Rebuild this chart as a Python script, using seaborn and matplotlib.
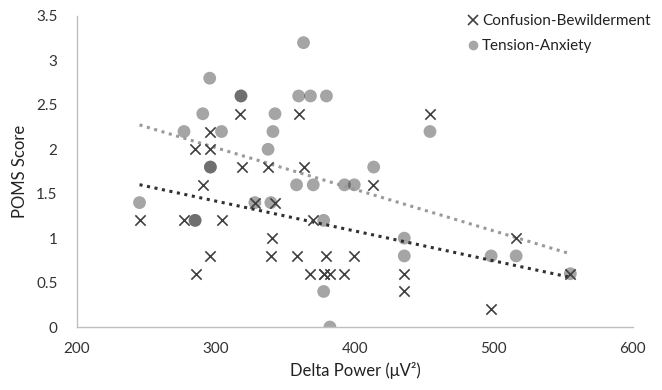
import numpy as np
import pandas as pd
import matplotlib
matplotlib.use('Agg')
import matplotlib.pyplot as plt
import seaborn as sns
from matplotlib.lines import Line2D
from matplotlib.ticker import FuncFormatter

# values
conf_x = [245, 277, 285, 285.5, 290.5, 295.5, 296, 296, 304, 317, 318.5, 328, 337.5, 339.5,
          340.5, 342.5, 358, 359.5, 363, 368, 370, 377.5, 377.5, 379, 382, 392, 399.5, 413,
          435.5, 435.5, 454, 498, 516, 555]
conf_y = [1.2, 1.2, 2.0, 0.6, 1.6, 2.2, 2.0, 0.8, 1.2, 2.4, 1.8, 1.4, 1.8, 0.8,
          1.0, 1.4, 0.8, 2.4, 1.8, 0.6, 1.2, 0.6, 0.6, 0.8, 0.6, 0.6, 0.8, 1.6,
          0.6, 0.4, 2.4, 0.2, 1.0, 0.6]

tens_x = [245, 277, 285, 285, 290.5, 295.5, 296, 296, 304, 318, 318, 328, 337.5, 339.5,
          341, 342.5, 358, 359.5, 363, 368, 370, 377.5, 377.5, 379.5, 382, 392.5, 399.5, 413.5,
          435.5, 435.5, 454, 498, 516, 555]
tens_y = [1.4, 2.2, 1.2, 1.2, 2.4, 2.8, 1.8, 1.8, 2.2, 2.6, 2.6, 1.4, 2.0, 1.4,
          2.2, 2.4, 1.6, 2.6, 3.2, 2.6, 1.6, 1.2, 0.4, 2.6, 0.0, 1.6, 1.6, 1.8,
          1.0, 0.8, 2.2, 0.8, 0.8, 0.6]

x_ticks = [200, 300, 400, 500, 600]
y_ticks = [0, 0.5, 1, 1.5, 2, 2.5, 3, 3.5]

conf_df = pd.DataFrame({'delta': conf_x, 'score': conf_y})
tens_df = pd.DataFrame({'delta': tens_x, 'score': tens_y})

sns.set_style('white')
plt.rcParams['font.family'] = ['Lato', 'DejaVu Sans']

fig = plt.figure(figsize=(6.62, 3.9), dpi=100)
ax = fig.add_axes([0.1163, 0.1615, 0.8397, 0.7975])

dark = '#404040'
light = '#a6a6a6'

# scatter points
sns.scatterplot(data=tens_df, x='delta', y='score', ax=ax, marker='o', s=85,
                color='#1e1e1e', alpha=0.4, edgecolor='none', zorder=2)
sns.scatterplot(data=conf_df, x='delta', y='score', ax=ax, marker='x', s=55,
                color=dark, linewidth=1.2, zorder=4)

# linear trend lines
sns.regplot(data=tens_df, x='delta', y='score', ax=ax, scatter=False, ci=None,
            line_kws={'color': '#9a9a9a', 'linestyle': (0, (1, 1.5)), 'linewidth': 2.2, 'zorder': 3})
sns.regplot(data=conf_df, x='delta', y='score', ax=ax, scatter=False, ci=None,
            line_kws={'color': '#303030', 'linestyle': (0, (1, 1.5)), 'linewidth': 2.2, 'zorder': 3})

ax.set_xlim(200, 600)
ax.set_ylim(0, 3.5)
ax.set_xticks(x_ticks)
ax.set_yticks(y_ticks)
ax.yaxis.set_major_formatter(FuncFormatter(lambda v, p: '%g' % v))
ax.tick_params(length=0, labelsize=11, colors='#333333')
ax.tick_params(axis='x', pad=11)
ax.tick_params(axis='y', pad=14)

for side in ['top', 'right']:
    ax.spines[side].set_visible(False)
for side in ['left', 'bottom']:
    ax.spines[side].set_color('#bfbfbf')
    ax.spines[side].set_linewidth(1.0)

ax.set_xlabel('Delta Power (μV²)', fontsize=12, color='#222222', labelpad=4)
ax.set_ylabel('POMS Score', fontsize=12, color='#222222', labelpad=6)

handles = [
    Line2D([], [], marker='x', linestyle='none', color=dark, markersize=7, markeredgewidth=1.2),
    Line2D([], [], marker='o', linestyle='none', color=light, markersize=7, markeredgewidth=0),
]
ax.legend(handles, ['Confusion-Bewilderment', 'Tension-Anxiety'], loc='upper right',
          bbox_to_anchor=(1.056, 1.05), frameon=False, fontsize=11, handletextpad=0.1,
          handlelength=1.0, labelspacing=0.7, labelcolor='#222222')

fig.savefig('out.png', dpi=100)
